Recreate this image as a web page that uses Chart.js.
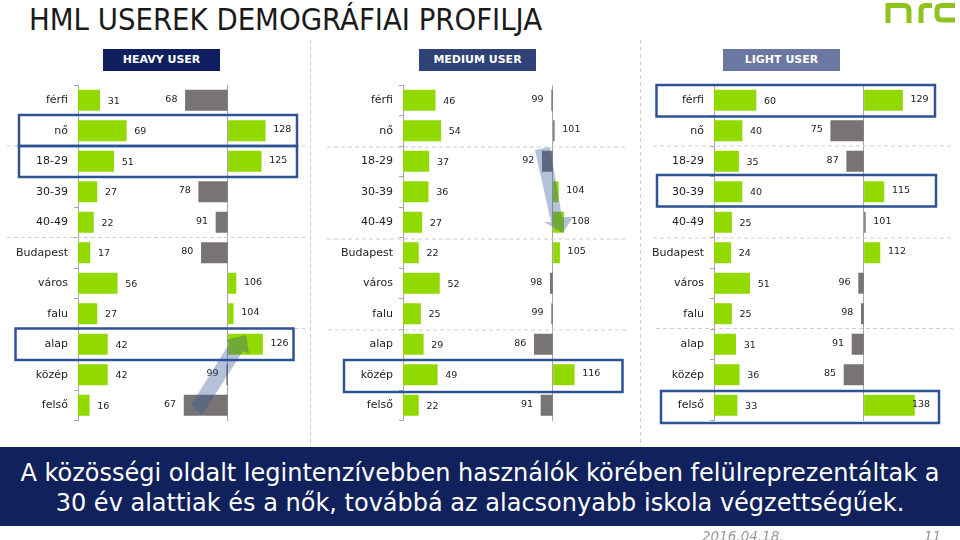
<!DOCTYPE html>
<html>
<head>
<meta charset="utf-8">
<script src="https://cdn.jsdelivr.net/npm/chart.js@4"></script>
<style>
  html, body { margin: 0; padding: 0; background: #fff; }
  body { position: relative; width: 960px; height: 540px; overflow: hidden; font-family: 'DejaVu Sans', sans-serif; }
  .title { position: absolute; left: 29px; top: 2px; font: 30.7px 'DejaVu Sans Condensed', 'DejaVu Sans', sans-serif; color: #1a1a1a; white-space: nowrap; }
  .badge { position: absolute; top: 49px; width: 117px; height: 22px; line-height: 22px; text-align: center; color: #fff; font-size: 11px; font-weight: bold; }
  .panel { position: absolute; top: 80px; width: 310px; height: 345px; }
  .banner { position: absolute; left: 0; top: 447px; width: 960px; height: 79px; background: #10215c; color: #fff; font-size: 24px; line-height: 30px; text-align: center; padding-top: 11px; box-sizing: border-box; }
  .foot { position: absolute; top: 528px; font-size: 13.5px; font-style: italic; color: #999; }
  svg { position: absolute; left: 0; top: 0; pointer-events: none; }
</style>
</head>
<body>
<div class="title">HML USEREK DEMOGRÁFIAI PROFILJA</div>

<div class="badge" style="left:103px;background:#0f1f5f">HEAVY USER</div>
<div class="badge" style="left:419px;background:#2f4277">MEDIUM USER</div>
<div class="badge" style="left:723px;background:#6a77a1">LIGHT USER</div>

<div class="panel" style="left:0"><canvas id="heavyChart"></canvas></div>
<div class="panel" style="left:325px"><canvas id="mediumChart"></canvas></div>
<div class="panel" style="left:636px"><canvas id="lightChart"></canvas></div>

<svg width="960" height="540">
  <!-- separators -->
  <g stroke="#cfcfcf" stroke-width="1" stroke-dasharray="4 3" fill="none">
    <path d="M310.5 40V447M640.5 40V447"/>
    <path d="M7 146H305M7 237.5H305M15 328.5H305"/>
    <path d="M327 147H627M327 239H627M328 330H627"/>
    <path d="M653 146H952M653 238H952M656 328.5H953"/>
  </g>
  <!-- highlight boxes -->
  <g stroke="#2e5395" stroke-width="2.5" fill="none">
    <rect x="19" y="115" width="278" height="31"/>
    <rect x="19" y="146" width="278" height="31"/>
    <rect x="15.500" y="328.500" width="278" height="31.500"/>
    <rect x="344" y="360" width="278.500" height="32"/>
    <rect x="656.500" y="85" width="278.500" height="31.500"/>
    <rect x="657" y="175" width="279" height="31.500"/>
    <rect x="661" y="391" width="278" height="32"/>
  </g>
  <!-- trend arrows -->
  <g fill="#2f5597" fill-opacity="0.36">
    <polygon points="191,405 229,344 226,340 246,335 249,354 243,351 202,415"/>
    <polygon points="535,150 550,147 562,217 573,217 563,233 544,222 551,222"/>
  </g>
  <!-- logo -->
  <g stroke="#8ec21f" stroke-width="5" fill="none">
    <path d="M888 23V5.500H904Q909 5.500 909 10.500V23"/>
    <path d="M921 23V10Q921 5.500 925.500 5.500H932"/>
    <path d="M955 5.500H942Q937 5.500 937 10V15Q937 20 942 20H955"/>
  </g>
</svg>

<div class="banner">A közösségi oldalt legintenzívebben használók körében felülreprezentáltak a<br>30 év alattiak és a nők, továbbá az alacsonyabb iskola végzettségűek.</div>
<div class="foot" style="left:702px">2016.04.18.</div>
<div class="foot" style="left:924px">11</div>

<script>
const categories = ['férfi', 'nő', '18-29', '30-39', '40-49', 'Budapest', 'város', 'falu', 'alap', 'közép', 'felső'];

// left column: share, right column: index (100 = average)
const heavyShare = [31, 69, 51, 27, 22, 17, 56, 27, 42, 42, 16];
const heavyIndex = [68, 128, 125, 78, 91, 80, 106, 104, 126, 99, 67];
const mediumShare = [46, 54, 37, 36, 27, 22, 52, 25, 29, 49, 22];
const mediumIndex = [99, 101, 92, 104, 108, 105, 98, 99, 86, 116, 91];
const lightShare = [60, 40, 35, 40, 25, 24, 51, 25, 31, 36, 33];
const lightIndex = [129, 75, 87, 115, 101, 112, 96, 98, 91, 85, 138];

const GREEN = '#92d900';
const GREY = '#787476';
const AXIS = '#a6a6a6';

// prints the number next to each bar
const valueLabels = {
    id: 'valueLabels',
    afterDatasetsDraw(chart) {
        const ctx = chart.ctx;
        ctx.save();
        ctx.font = "9.5px 'DejaVu Sans'";
        ctx.fillStyle = '#222';
        ctx.textBaseline = 'middle';
        chart.data.datasets.forEach((ds, di) => {
            chart.getDatasetMeta(di).data.forEach((bar, i) => {
                const v = ds.data[i];
                const isIndex = ds.xAxisID === 'xIndex';
                const below = isIndex && v < 100;
                ctx.textAlign = below ? 'right' : 'left';
                // the longest bar pushes its label back over the bar end
                const x = below ? bar.x - 8 : Math.min(bar.x + 8, 276);
                ctx.fillText(v, x, bar.y + (isIndex ? -1 : 1));
            });
        });
        ctx.restore();
    }
};

function makePanel(id, share, index) {
    new Chart(document.getElementById(id), {
        type: 'bar',
        data: {
            labels: categories,
            datasets: [
                { label: 'share', data: share, xAxisID: 'xShare', backgroundColor: GREEN },
                {
                    label: 'index',
                    data: index,
                    xAxisID: 'xIndex',
                    base: 100,
                    backgroundColor: index.map(v => v > 101 ? GREEN : GREY)
                }
            ]
        },
        options: {
            indexAxis: 'y',
            responsive: true,
            maintainAspectRatio: false,
            animation: false,
            layout: { padding: { top: 5, bottom: 4.5 } },
            datasets: { bar: { grouped: false, barThickness: 20.5 } },
            plugins: { legend: { display: false }, tooltip: { enabled: false } },
            scales: {
                y: {
                    afterFit(scale) {
                        scale.width = 78;
                        scale.paddingTop = 0;
                        scale.paddingBottom = 0;
                    },
                    border: { color: AXIS },
                    grid: { drawOnChartArea: false, color: AXIS, tickLength: 4 },
                    ticks: { font: { family: 'DejaVu Sans', size: 11 }, color: '#222', padding: 6 }
                },
                xShare: {
                    min: 0,
                    max: 331.4,
                    afterFit(scale) { scale.height = 0; },
                    border: { display: false },
                    grid: { display: false },
                    ticks: { display: false }
                },
                xIndex: {
                    min: -12.8,
                    max: 161.7,
                    afterFit(scale) { scale.height = 0; },
                    afterBuildTicks(scale) { scale.ticks = [{ value: 100 }]; },
                    border: { display: false },
                    grid: { color: AXIS, tickLength: 0 },
                    ticks: { display: false }
                }
            }
        },
        plugins: [valueLabels]
    });
}

makePanel('heavyChart', heavyShare, heavyIndex);
makePanel('mediumChart', mediumShare, mediumIndex);
makePanel('lightChart', lightShare, lightIndex);
</script>
</body>
</html>
